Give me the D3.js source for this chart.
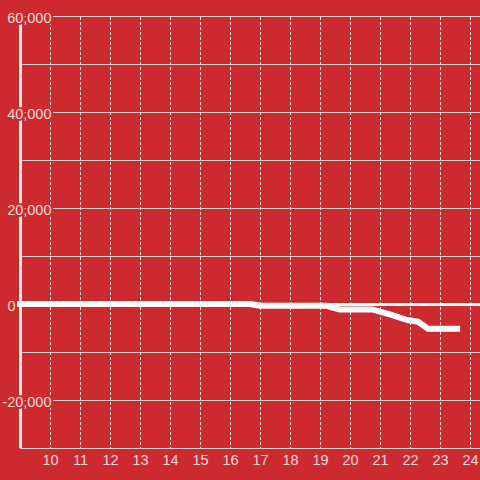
<!DOCTYPE html>
<html>
<head>
<meta charset="utf-8">
<script src="https://cdn.jsdelivr.net/npm/d3@7"></script>
<style>
  html, body { margin: 0; padding: 0; background: #cc2a2f; }
  svg { display: block; }
</style>
</head>
<body>
<svg id="chart" width="480" height="480"></svg>
<script>
// ---- data ----
const xTicks = [10, 11, 12, 13, 14, 15, 16, 17, 18, 19, 20, 21, 22, 23, 24];
const yLabelTicks = [-20000, 0, 20000, 40000, 60000];
const yGridTicks = [-30000, -20000, -10000, 0, 10000, 20000, 30000, 40000, 50000, 60000];
const xValues = [9, 16.67, 17.0, 19.23, 19.67, 20.77, 21.33, 21.9, 22.27, 22.6, 23.57];
const yValues = [0, 0, -375, -375, -1150, -1150, -2150, -3330, -3690, -5150, -5150];

const W = 480, H = 480;
const bg = "#cc2a2f";
const svg = d3.select("#chart");
svg.append("rect").attr("width", W).attr("height", H).attr("fill", bg);

const x = d3.scaleLinear().domain([9, 24 + 1/3]).range([20, 480]);
const y = d3.scaleLinear().domain([-30000, 60000]).range([448, 16]);

const loc = d3.formatLocale({decimal: ".", thousands: ",", grouping: [3], currency: ["$", ""], minus: "-"});
const fmt = loc.format(",");

// horizontal solid gridlines
svg.append("g").selectAll("line").data(yGridTicks).join("line")
  .attr("x1", 20).attr("x2", 480)
  .attr("y1", d => Math.round(y(d)) + 0.5).attr("y2", d => Math.round(y(d)) + 0.5)
  .attr("stroke", "#d2d2d2").attr("stroke-width", 1);

// vertical dotted gridlines
svg.append("g").selectAll("line").data(xTicks).join("line")
  .attr("x1", d => Math.round(x(d)) + 0.5).attr("x2", d => Math.round(x(d)) + 0.5)
  .attr("y1", 17).attr("y2", 448)
  .attr("stroke", "#e4e4e4").attr("stroke-width", 1).attr("stroke-dasharray", "3,2");

// left axis line
svg.append("line").attr("x1", 20.5).attr("x2", 20.5).attr("y1", 16).attr("y2", 448)
  .attr("stroke", "#f4f0f0").attr("stroke-width", 3);

// zero line
svg.append("line").attr("x1", 20).attr("x2", 480)
  .attr("y1", y(0) + 0.5).attr("y2", y(0) + 0.5)
  .attr("stroke", "#ffffff").attr("stroke-width", 3);

// data line
const pts = xValues.map((v, i) => [v, yValues[i]]);
svg.append("path").datum(pts)
  .attr("d", d3.line().x(d => x(d[0])).y(d => y(d[1])))
  .attr("fill", "none").attr("stroke", "#ffffff").attr("stroke-width", 6)
  .attr("stroke-linecap", "square").attr("stroke-linejoin", "round");

// y axis labels with halo
const yAxis = svg.append("g")
  .call(d3.axisLeft(y).tickValues(yLabelTicks).tickFormat(fmt).tickSize(0).tickPadding(0));
yAxis.select(".domain").remove();
yAxis.selectAll(".tick text")
  .attr("x", d => d === 0 ? 15.5 : 51.5)
  .attr("font-family", "Liberation Sans, Arial, sans-serif")
  .attr("font-size", 14.5).attr("fill", "#f6dcdc").attr("dy", "0.46em")
  .attr("stroke", bg).attr("stroke-width", 4).attr("stroke-linejoin", "round")
  .attr("paint-order", "stroke");

// x axis labels
const xAxis = svg.append("g").attr("transform", "translate(0,448)")
  .call(d3.axisBottom(x).tickValues(xTicks).tickFormat(d3.format("d")).tickSize(0).tickPadding(7));
xAxis.select(".domain").remove();
xAxis.selectAll("text")
  .attr("font-family", "Liberation Sans, Arial, sans-serif")
  .attr("font-size", 14.5).attr("fill", "#f6dcdc");
</script>
</body>
</html>
